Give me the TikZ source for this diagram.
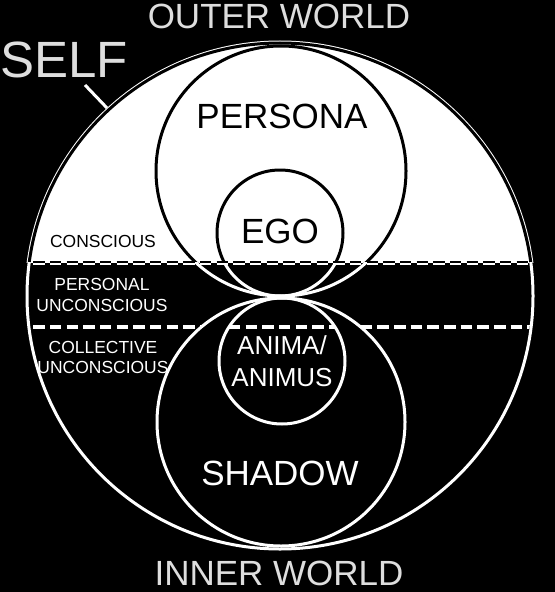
\documentclass[tikz,border=0pt]{standalone}
\usepackage{fontspec}
\setmainfont{Liberation Sans}
\usetikzlibrary{calc}
\definecolor{LblGray}{RGB}{222,222,222}

\begin{document}
\begin{tikzpicture}[
        x=0.75pt, y=-0.75pt,
        RingCfg/.style={line width=2.25pt},
        DashCfg/.style={line width=3pt, white, dash pattern=on 8.6pt off 3.9pt},
        WorldLbl/.style={inner sep=0pt, anchor=base, text=LblGray, font=\fontsize{26.25}{30}\selectfont},
        PartLbl/.style={inner sep=0pt, font=\fontsize{26.25}{30}\selectfont},
        LayerLbl/.style={inner sep=0pt, align=center, font=\fontsize{13.1}{15.75}\selectfont}
    ]
    
    % background
    \useasboundingbox (0,0) rectangle (555,592);
    \fill[black] (0,0) rectangle (555,592);
    
    % centres
    \coordinate (SelfC) at (280,296);
    \coordinate (PersonaC) at (281,171);
    \coordinate (EgoC) at (280,233);
    \coordinate (AnimaC) at (282,361);
    \coordinate (ShadowC) at (281,422);
    
    % conscious part
    \begin{scope}
        \clip (0,0) rectangle (555,262.5);
        \fill[white] (SelfC) circle (255.5);
        \draw[RingCfg,black] (SelfC) circle (253);
        \draw[RingCfg,black] (PersonaC) circle (125);
        \draw[RingCfg,black] (EgoC) circle (63);
    \end{scope}
    
    % unconscious part
    \begin{scope}
        \clip (0,262.5) rectangle (555,592);
        \draw[RingCfg,white] (SelfC) circle (253);
        \draw[RingCfg,white] (PersonaC) circle (125);
        \draw[RingCfg,white] (EgoC) circle (63);
    \end{scope}
    \draw[RingCfg,white] (AnimaC) circle (63);
    \draw[RingCfg,white] (ShadowC) circle (124);
    
    % dashed borders
    \begin{scope}
        \clip (SelfC) circle (251.5);
        \draw[line width=1.5pt, black, dash pattern=on 8.6pt off 3.9pt] (0,261.5)--(555,261.5);
        \draw[line width=1.5pt, white, dash pattern=on 8.6pt off 3.9pt] (0,263.5)--(555,263.5);
        \draw[DashCfg] (0,327)--(201.3,327);
        \draw[DashCfg] (229,327)--(335,327);
        \draw[DashCfg] (360.7,327)--(555,327);
    \end{scope}
    
    % SELF pointer
    \node[WorldLbl, anchor=base west, font=\fontsize{38.25}{44}\selectfont] (SelfLbl) at (0,78) {SELF};
    \coordinate (SelfTail) at (85,85);
    \coordinate (SelfTip) at (107,108);
    \draw[white, line width=2.25pt] (SelfTail)--(SelfTip);
    
    % worlds
    \node[WorldLbl] (OuterLbl) at (279,29) {OUTER WORLD};
    \node[WorldLbl] (InnerLbl) at (279,585) {INNER WORLD};
    
    % parts of the psyche
    \node[PartLbl, anchor=base] (PersonaLbl) at (282,128) {PERSONA};
    \node[PartLbl, anchor=base] (EgoLbl) at (280,243) {EGO};
    \node[PartLbl, anchor=base, text=white] (ShadowLbl) at (280,485) {SHADOW};
    \node[PartLbl, text=white, align=center, font=\fontsize{19.5}{24}\selectfont] (AnimaLbl) at (282,361.5) {ANIMA/\\ANIMUS};
    
    % layers
    \node[LayerLbl, anchor=base] (ConsciousLbl) at (103,247) {CONSCIOUS};
    \node[LayerLbl, text=white] (PersonalLbl) at (102,294.5) {PERSONAL\\UNCONSCIOUS};
    \node[LayerLbl, text=white, font=\fontsize{13.1}{15}\selectfont] (CollectiveLbl) at (103,357.5) {COLLECTIVE\\UNCONSCIOUS};
    
\end{tikzpicture}
\end{document}
